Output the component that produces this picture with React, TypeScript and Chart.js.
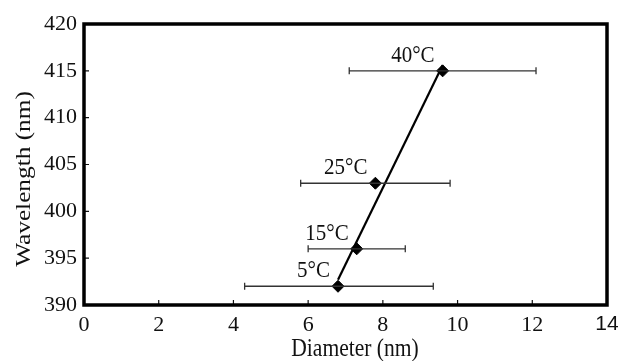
import React, { useEffect, useRef } from "react";
import { Chart, registerables } from "chart.js";

Chart.register(...registerables);

const temperatures = ["5°C", "15°C", "25°C", "40°C"];
const diameters = [6.8, 7.3, 7.8, 9.6];
const wavelengths = [392, 396, 403, 415];
const diameterLow = [4.3, 6.0, 5.8, 7.1];
const diameterHigh = [9.35, 8.6, 9.8, 12.1];
const trendX = [6.8, 9.6];
const trendY = [392.7, 415.6];
const xTicks = [0, 2, 4, 6, 8, 10, 12, 14];
const yTicks = [390, 395, 400, 405, 410, 415, 420];
const xTitle = "Diameter (nm)";
const yTitle = "Wavelength (nm)";

const FONT = "'Liberation Serif', 'Times New Roman', serif";

const decorPlugin = {
  id: "decor",
  afterDatasetsDraw(chart: any) {
    const { ctx, chartArea, scales } = chart;
    const xs = scales.x;
    const ys = scales.y;
    ctx.save();
    // error bars
    ctx.strokeStyle = "#333";
    ctx.lineWidth = 1.3;
    for (let i = 0; i < diameters.length; i++) {
      const y = ys.getPixelForValue(wavelengths[i]);
      const x1 = xs.getPixelForValue(diameterLow[i]);
      const x2 = xs.getPixelForValue(diameterHigh[i]);
      ctx.beginPath();
      ctx.moveTo(x1, y);
      ctx.lineTo(x2, y);
      ctx.moveTo(x1, y - 3.5);
      ctx.lineTo(x1, y + 3.5);
      ctx.moveTo(x2, y - 3.5);
      ctx.lineTo(x2, y + 3.5);
      ctx.stroke();
    }
    // labels
    ctx.fillStyle = "#111";
    ctx.font = `21px ${FONT}`;
    ctx.textAlign = "right";
    ctx.textBaseline = "alphabetic";
    for (let i = 0; i < diameters.length; i++) {
      const x = xs.getPixelForValue(diameters[i]);
      const y = ys.getPixelForValue(wavelengths[i]);
      ctx.save();
      ctx.translate(x - 8, y - 9);
      ctx.scale(1, 1.12);
      ctx.fillText(temperatures[i], 0, 0);
      ctx.restore();
    }
    // inward ticks
    ctx.strokeStyle = "#111";
    ctx.lineWidth = 1.2;
    ctx.beginPath();
    for (const v of xTicks) {
      const x = xs.getPixelForValue(v);
      ctx.moveTo(x, chartArea.bottom);
      ctx.lineTo(x, chartArea.bottom - 5);
    }
    for (const v of yTicks) {
      const y = ys.getPixelForValue(v);
      ctx.moveTo(chartArea.left, y);
      ctx.lineTo(chartArea.left + 5, y);
    }
    ctx.stroke();
    // frame
    ctx.strokeStyle = "#000";
    ctx.lineWidth = 3.5;
    ctx.strokeRect(
      chartArea.left,
      chartArea.top,
      chartArea.right - chartArea.left,
      chartArea.bottom - chartArea.top
    );
    // axis titles
    ctx.fillStyle = "#111";
    ctx.font = `22px ${FONT}`;
    ctx.textAlign = "center";
    ctx.textBaseline = "middle";
    ctx.save();
    ctx.translate(355, 350);
    ctx.scale(0.98, 1.12);
    ctx.fillText(xTitle, 0, 0);
    ctx.restore();
    ctx.save();
    ctx.translate(24, 179);
    ctx.rotate(-Math.PI / 2);
    ctx.scale(1.15, 1);
    ctx.fillText(yTitle, 0, 0);
    ctx.restore();
    ctx.restore();
  },
};

export default function App() {
  const ref = useRef<HTMLCanvasElement | null>(null);
  useEffect(() => {
    document.body.style.margin = "0";
    const canvas = ref.current!;
    const chart = new Chart(canvas, {
      type: "scatter",
      data: {
        datasets: [
          {
            type: "line",
            data: trendX.map((x, i) => ({ x, y: trendY[i] })),
            borderColor: "#000",
            borderWidth: 2.2,
            pointRadius: 0,
            fill: false,
          },
          {
            type: "scatter",
            data: diameters.map((x, i) => ({ x, y: wavelengths[i] })),
            pointStyle: "rectRot",
            pointRadius: 6,
            backgroundColor: "#000",
            borderColor: "#000",
          },
        ],
      },
      options: {
        animation: false,
        responsive: false,
        maintainAspectRatio: false,
        layout: { padding: { top: 24, right: 11, left: 0, bottom: 0 } },
        plugins: {
          legend: { display: false },
          tooltip: { enabled: false },
        },
        scales: {
          x: {
            type: "linear",
            min: 0,
            max: 14,
            afterBuildTicks: (s: any) => {
              s.ticks = xTicks.map((v) => ({ value: v }));
            },
            afterFit: (s: any) => {
              s.height = 56;
              s.paddingLeft = 0;
              s.paddingRight = 0;
            },
            grid: { display: false, drawTicks: false },
            border: { display: false },
            ticks: {
              color: "#111",
              padding: 7,
              font: (c: any) =>
                c.tick && c.tick.value === 14
                  ? { family: "'Liberation Sans', Arial, sans-serif", size: 21 }
                  : { family: FONT, size: 22 },
            },
            title: { display: false },
          },
          y: {
            type: "linear",
            min: 390,
            max: 420,
            afterBuildTicks: (s: any) => {
              s.ticks = yTicks.map((v) => ({ value: v }));
            },
            afterFit: (s: any) => {
              s.width = 84;
              s.paddingTop = 0;
              s.paddingBottom = 0;
            },
            grid: { display: false, drawTicks: false },
            border: { display: false },
            ticks: {
              color: "#111",
              padding: 7,
              font: { family: FONT, size: 22 },
            },
            title: { display: false },
          },
        },
      },
      plugins: [decorPlugin],
    });
    return () => chart.destroy();
  }, []);
  return (
    <div style={{ width: 618, height: 361, background: "#fff" }}>
      <canvas ref={ref} width={618} height={361} style={{ display: "block" }} />
    </div>
  );
}
